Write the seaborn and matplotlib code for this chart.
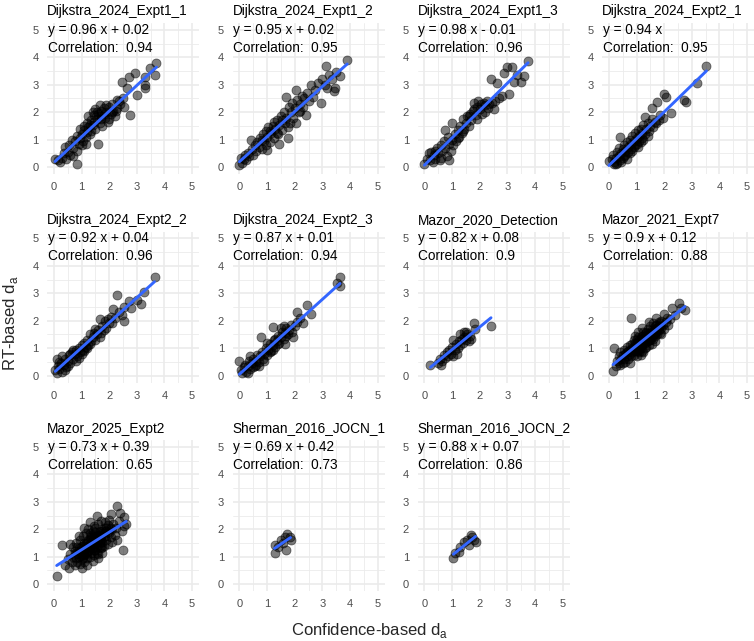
import matplotlib
matplotlib.use("Agg")
import matplotlib.pyplot as plt
import seaborn as sns
import pandas as pd
import numpy as np

sns.set_style("white")
plt.rcParams['font.family'] = ['Liberation Sans', 'DejaVu Sans']
plt.rcParams['mathtext.fontset'] = 'custom'
plt.rcParams['mathtext.rm'] = 'Liberation Sans'

# ---------------- data ----------------
panels = ["Dijkstra_2024_Expt1_1", "Dijkstra_2024_Expt1_2", "Dijkstra_2024_Expt1_3",
          "Dijkstra_2024_Expt2_1", "Dijkstra_2024_Expt2_2", "Dijkstra_2024_Expt2_3",
          "Mazor_2020_Detection", "Mazor_2021_Expt7", "Mazor_2025_Expt2",
          "Sherman_2016_JOCN_1", "Sherman_2016_JOCN_2"]

equations = ["y = 0.96 x + 0.02", "y = 0.95 x + 0.02", "y = 0.98 x - 0.01",
             "y = 0.94 x", "y = 0.92 x + 0.04", "y = 0.87 x + 0.01",
             "y = 0.82 x + 0.08", "y = 0.9 x + 0.12", "y = 0.73 x + 0.39",
             "y = 0.69 x + 0.42", "y = 0.88 x + 0.07"]

correlations = ["0.94", "0.95", "0.96", "0.95", "0.96", "0.94",
                "0.9", "0.88", "0.65", "0.73", "0.86"]

d1_1 = [(0.04,0.29),(0.22,0.19),(0.15,0.25),(0.30,0.35),(0.35,0.50),(0.40,0.74),(0.45,0.30),(0.50,0.55),
        (0.55,0.80),(0.60,0.45),(0.64,1.00),(0.70,0.70),(0.75,0.95),(0.82,1.13),(0.82,0.13),(0.85,0.60),
        (0.90,0.85),(0.95,1.05),(1.00,1.20),(1.05,0.95),(1.10,1.35),(1.15,1.10),(1.19,1.29),(1.20,1.60),
        (1.25,1.45),(1.30,1.20),(1.35,1.70),(1.40,1.55),(1.45,1.90),(1.50,1.40),(1.50,2.10),(1.55,1.75),
        (1.59,0.83),(1.60,1.95),(1.65,1.60),(1.70,2.05),(1.72,1.85),(1.75,1.50),(1.80,2.15),(1.85,1.80),
        (1.90,2.00),(1.95,1.65),(2.00,2.20),(2.05,1.95),(2.10,2.30),(2.15,2.05),(2.20,1.85),(2.28,2.44),
        (2.30,2.15),(2.40,2.30),(2.46,3.10),(2.55,2.20),(2.64,2.90),(2.70,3.27),(2.76,1.90),(2.95,3.44),
        (3.00,2.63),(3.30,3.00),(3.30,3.30),(3.30,2.87),(3.49,3.60),(3.67,3.36),(3.71,3.81),(1.25,1.85),
        (1.35,1.30),(1.45,1.65),(1.55,2.00),(1.65,2.25),(1.40,2.00),(1.30,1.55),(1.10,1.50),(1.00,0.80),
        (0.95,1.40),(1.70,1.75),(1.80,1.95),(2.00,1.75),(2.10,2.00),(1.90,2.25),(2.25,2.05),(2.35,2.40),
        (2.50,2.50),(1.15,0.85),(0.70,0.40)]

d1_2 = [(0.00,0.07),(0.06,0.32),(0.10,0.15),(0.15,0.30),(0.20,0.45),(0.25,0.25),(0.30,0.50),(0.35,0.40),
        (0.42,1.00),(0.45,0.65),(0.50,0.45),(0.55,0.80),(0.60,0.60),(0.65,0.90),(0.70,0.75),(0.75,1.05),
        (0.80,0.65),(0.85,1.20),(0.90,0.95),(0.95,1.30),(1.00,0.62),(1.00,1.10),(1.05,1.45),(1.10,0.90),
        (1.15,1.25),(1.20,1.50),(1.25,1.05),(1.30,1.40),(1.35,1.70),(1.40,1.20),(1.45,0.86),(1.45,1.55),
        (1.50,1.85),(1.55,1.35),(1.60,2.00),(1.65,1.60),(1.70,2.57),(1.70,1.80),(1.77,1.05),(1.80,2.20),
        (1.82,1.60),(1.85,2.00),(1.90,2.35),(1.95,1.80),(2.00,2.15),(2.06,2.81),(2.06,1.60),(2.10,2.45),
        (2.15,2.00),(2.20,2.30),(2.25,2.60),(2.30,2.20),(2.35,2.50),(2.42,1.90),(2.45,2.70),(2.50,2.40),
        (2.60,3.00),(2.65,2.55),(2.75,2.80),(2.85,3.05),(2.97,2.32),(3.00,3.20),(3.10,3.00),(3.15,3.70),
        (3.18,2.87),(3.25,3.35),(3.35,3.20),(3.42,2.79),(3.45,2.87),(3.50,3.45),(3.64,3.32),(3.90,3.90),
        (1.25,1.65),(1.35,1.25),(0.95,0.80),(1.10,1.30),(1.55,1.70),(1.75,1.45),(2.20,2.05),(0.80,1.00)]

d1_3 = [(0.00,0.10),(0.10,0.30),(0.15,0.50),(0.20,0.25),(0.25,0.55),(0.30,0.20),(0.35,0.45),(0.40,0.30),
        (0.45,0.70),(0.50,0.50),(0.55,0.25),(0.60,0.80),(0.65,0.60),(0.70,0.95),(0.75,1.35),(0.75,0.70),
        (0.80,0.40),(0.85,1.10),(0.90,0.25),(0.90,0.85),(0.95,0.60),(1.00,1.60),(1.00,1.00),(1.05,0.80),
        (1.10,1.20),(1.15,0.95),(1.20,1.35),(1.25,1.10),(1.30,1.50),(1.35,1.25),(1.40,1.75),(1.45,1.40),
        (1.50,1.60),(1.55,1.85),(1.60,1.50),(1.65,1.95),(1.70,1.70),(1.75,2.05),(1.80,2.35),(1.85,1.90),
        (1.90,2.20),(1.95,2.40),(2.00,2.10),(2.05,2.30),(2.10,1.95),(2.15,2.35),(2.20,2.25),(2.25,2.40),
        (2.30,2.15),(2.35,2.30),(2.41,3.20),(2.45,2.35),(2.50,2.10),(2.55,2.40),(2.63,3.05),(2.70,2.50),
        (2.80,2.60),(2.87,3.44),(3.00,3.66),(3.05,2.66),(3.18,3.66),(3.24,3.11),(3.36,3.36),(3.48,3.11),
        (3.62,3.32),(3.75,3.88),(1.40,1.30),(1.60,1.85),(1.90,1.75),(2.20,2.00),(0.60,0.35),(0.40,0.60),
        (1.20,1.05),(1.80,2.10)]

d2_1 = [(0.00,0.22),(0.17,0.10),(0.10,0.30),(0.15,0.45),(0.20,0.20),(0.25,0.35),(0.30,0.55),(0.30,0.15),
        (0.35,0.40),(0.40,0.25),(0.41,1.10),(0.45,0.50),(0.50,0.65),(0.50,0.35),(0.55,0.80),(0.60,0.45),
        (0.60,0.60),(0.65,0.90),(0.70,0.55),(0.70,0.75),(0.75,1.00),(0.80,0.65),(0.80,0.85),(0.85,1.15),
        (0.90,0.75),(0.90,0.95),(0.95,1.25),(1.00,0.85),(1.00,1.05),(1.05,1.35),(1.10,0.95),(1.10,1.15),
        (1.15,1.40),(1.20,1.05),(1.20,1.25),(1.25,1.55),(1.30,1.20),(1.32,1.81),(1.35,1.40),(1.40,1.60),
        (1.45,1.30),(1.50,1.50),(1.56,2.14),(1.55,1.75),(1.60,1.45),(1.65,1.65),(1.75,2.38),(1.80,1.70),
        (1.85,1.90),(2.01,2.65),(2.05,2.57),(2.23,1.96),(2.72,2.45),(2.80,2.38),(3.20,3.05),(3.53,3.69),
        (0.35,0.70),(0.55,0.40),(0.75,0.50),(0.95,0.80),(1.15,0.90),(0.65,0.30),(0.85,0.60),(1.05,0.75),
        (0.45,0.20),(0.25,0.10),(1.25,1.00),(1.40,1.15),(1.70,1.60),(1.95,1.80)]

d2_2 = [(0.10,0.62),(0.05,0.20),(0.10,0.10),(0.15,0.35),(0.20,0.25),(0.25,0.45),(0.30,0.15),(0.35,0.40),
        (0.40,0.60),(0.45,0.30),(0.50,0.55),(0.55,0.75),(0.60,0.45),(0.65,0.85),(0.70,0.60),(0.75,0.80),
        (0.80,0.95),(0.85,0.70),(0.90,1.00),(0.95,0.85),(1.00,1.10),(1.05,0.95),(1.10,1.20),(1.15,1.05),
        (1.20,1.30),(1.25,1.10),(1.31,1.50),(1.35,1.25),(1.40,1.40),(1.45,1.55),(1.50,1.30),(1.55,1.50),
        (1.60,1.65),(1.67,2.06),(1.70,1.55),(1.75,1.80),(1.80,1.65),(1.85,2.00),(1.90,1.75),(1.95,2.05),
        (2.00,1.90),(2.05,2.15),(2.15,2.42),(2.10,1.90),(2.20,2.10),(2.30,2.93),(2.35,2.30),(2.45,2.20),
        (2.52,2.00),(2.55,2.50),(2.70,2.72),(2.80,2.45),(3.00,2.75),(3.15,2.60),(3.25,3.03),(3.64,3.60),
        (0.60,0.80),(0.80,0.55),(1.00,0.80),(1.20,1.00),(0.40,0.20),(0.20,0.50),(0.70,0.95),(0.90,0.65),
        (1.10,0.90),(1.30,1.15),(1.50,1.70),(1.65,1.40),(0.50,0.35),(0.30,0.70)]

d2_3 = [(0.00,0.55),(0.05,0.20),(0.10,0.10),(0.15,0.30),(0.20,0.40),(0.25,0.15),(0.30,0.35),(0.35,0.55),
        (0.40,0.25),(0.45,0.45),(0.50,0.60),(0.55,0.35),(0.60,0.55),(0.65,0.75),(0.70,0.50),(0.75,0.70),
        (0.79,1.39),(0.80,0.85),(0.85,0.60),(0.90,0.80),(0.95,1.00),(1.00,0.75),(1.05,0.95),(1.10,1.15),
        (1.15,0.90),(1.21,1.76),(1.20,1.10),(1.25,1.30),(1.30,1.05),(1.35,1.25),(1.40,1.45),(1.45,1.20),
        (1.50,1.40),(1.55,1.60),(1.60,1.35),(1.64,1.15),(1.65,1.55),(1.70,1.75),(1.75,1.50),(1.80,1.65),
        (1.85,1.85),(1.90,1.60),(1.94,1.39),(2.00,1.80),(2.08,2.33),(2.10,1.95),(2.20,2.10),(2.30,1.90),
        (2.45,2.58),(2.60,2.24),(3.52,3.39),(3.64,3.60),(3.64,3.27),(0.50,0.30),(0.70,0.35),(0.90,0.55),
        (1.10,0.85),(1.30,1.35),(1.50,1.75),(1.70,1.45),(0.30,0.10),(0.40,0.70),(0.60,0.40),(1.00,1.20),
        (1.20,0.95),(1.40,1.15),(1.60,1.80)]

m2020 = [(0.22,0.40),(0.50,0.47),(0.55,0.60),(0.65,0.55),(0.70,0.75),(0.75,0.65),(0.80,0.85),(0.85,0.70),
         (0.90,0.95),(0.95,0.80),(1.00,1.05),(1.05,0.73),(1.05,1.30),(1.10,0.95),(1.15,1.15),(1.18,0.79),
         (1.20,1.00),(1.25,1.25),(1.30,1.10),(1.35,1.35),(1.40,1.20),(1.42,1.58),(1.45,1.40),(1.50,1.30),
         (1.55,1.50),(1.60,1.25),(1.65,1.45),(1.70,1.35),(1.78,1.90),(1.84,1.70),(2.41,1.79),(0.60,0.40),
         (1.30,1.50),(1.50,1.60)]

m2021 = [(0.15,0.18),(0.20,1.00),(0.30,0.55),(0.35,0.70),(0.40,0.40),(0.40,0.85),(0.45,0.60),(0.50,0.75),
         (0.50,0.45),(0.55,0.95),(0.55,0.60),(0.60,0.80),(0.60,0.50),(0.65,0.70),(0.65,1.05),(0.70,0.90),
         (0.70,0.60),(0.75,0.80),(0.75,1.10),(0.80,2.10),(0.80,0.95),(0.80,0.70),(0.85,1.15),(0.85,0.85),
         (0.90,1.00),(0.90,0.75),(0.90,1.30),(0.95,1.10),(0.95,0.90),(1.00,1.20),(1.00,0.95),(1.00,0.70),
         (1.05,1.05),(1.05,1.40),(1.10,1.15),(1.10,0.85),(1.10,1.30),(1.15,1.00),(1.15,1.25),(1.20,1.45),
         (1.20,1.10),(1.20,0.90),(1.25,1.30),(1.25,1.60),(1.30,1.20),(1.30,1.45),(1.30,1.00),(1.35,1.35),
         (1.35,1.55),(1.40,1.25),(1.40,1.70),(1.40,1.45),(1.45,1.10),(1.45,1.40),(1.50,1.55),(1.50,1.30),
         (1.50,1.80),(1.55,1.45),(1.55,1.65),(1.60,1.35),(1.60,1.55),(1.60,1.90),(1.65,1.70),(1.65,1.45),
         (1.70,1.60),(1.70,1.85),(1.75,1.50),(1.75,1.75),(1.80,1.95),(1.80,1.65),(1.85,1.80),(1.85,1.55),
         (1.90,2.00),(1.90,1.75),(1.95,1.85),(2.00,2.24),(2.00,1.70),(2.05,1.95),(2.10,2.10),(2.15,1.85),
         (2.20,2.05),(2.30,2.48),(2.40,2.20),(2.54,2.63),(2.60,2.45),(2.75,2.40),(0.25,0.35),(0.35,0.45),
         (1.20,1.75),(1.05,1.60),(0.95,1.45),(1.45,1.95),(1.70,2.10),(1.25,0.85),(1.55,1.15),(0.75,0.45),
         (1.35,1.05),(1.00,1.35),(0.85,1.00),(1.15,0.75),(1.65,1.25),(1.90,1.50),
         (0.95,1.00),(1.05,1.15),(1.15,1.10),(1.25,1.20),(1.35,1.25),(1.45,1.30),(1.55,1.40),(1.65,1.55),
         (1.75,1.65),(1.00,1.05),(1.10,1.00),(1.20,1.30),(1.30,1.35),(1.40,1.40),(1.50,1.45),(1.60,1.60),
         (1.70,1.70),(1.80,1.80),(0.85,0.95),(0.95,1.20),(1.05,0.90),(1.15,1.35),(1.25,1.45),(1.35,1.60),
         (1.45,1.55),(1.55,1.60),(1.65,1.80),(0.75,0.95),(0.65,0.85),(1.85,1.90)]

m2025 = [(0.10,0.30),(0.28,1.42),(0.40,0.70),(0.50,0.90),(0.55,0.60),(0.60,1.10),(0.65,0.80),(0.70,1.00),
         (0.70,1.35),(0.75,0.70),(0.75,1.20),(0.80,0.95),(0.80,1.50),(0.85,1.10),(0.85,0.80),(0.90,1.30),
         (0.90,1.00),(0.95,1.60),(0.95,0.75),(1.00,1.15),(1.00,1.40),(1.00,0.90),(1.05,1.25),(1.05,1.75),
         (1.10,1.05),(1.10,1.50),(1.10,0.80),(1.15,1.30),(1.15,1.85),(1.20,1.10),(1.20,1.55),(1.20,0.95),
         (1.25,1.40),(1.25,2.00),(1.25,1.20),(1.30,1.65),(1.30,1.00),(1.30,1.35),(1.35,1.80),(1.35,1.50),
         (1.35,1.15),(1.40,1.30),(1.40,1.95),(1.40,1.60),(1.45,1.45),(1.45,2.10),(1.45,1.05),(1.50,1.70),
         (1.50,1.25),(1.50,1.90),(1.55,2.48),(1.55,1.55),(1.55,1.35),(1.60,1.80),(1.60,2.20),(1.60,1.10),
         (1.65,1.50),(1.65,1.95),(1.70,1.65),(1.70,2.30),(1.70,1.30),(1.75,1.85),(1.75,1.55),(1.80,2.05),
         (1.80,1.40),(1.85,1.75),(1.85,2.25),(1.90,1.60),(1.90,1.95),(1.95,2.15),(1.95,1.45),(2.00,1.85),
         (2.00,2.35),(2.05,1.70),(2.10,2.00),(2.10,1.55),(2.15,2.20),(2.20,1.80),(2.28,2.85),(2.25,2.05),
         (2.30,1.60),(2.35,2.30),(2.45,1.95),(2.50,1.24),(2.52,2.44),(2.55,2.10),(2.62,2.18),(1.00,0.60),
         (1.20,0.70),(1.40,0.85),(1.60,0.95),(0.60,1.45),(0.90,1.75),(1.10,2.05),(1.30,2.25),(2.05,2.55),
         (2.40,2.60),(1.75,1.15),(1.05,0.95),(0.85,1.35),
         (1.10,1.25),(1.20,1.35),(1.30,1.45),(1.40,1.50),(1.50,1.55),(1.60,1.65),(1.70,1.75),(1.80,1.70),
         (1.00,1.05),(1.15,1.50),(1.25,1.60),(1.35,1.70),(1.45,1.75),(1.55,1.80),(1.65,1.70),(1.75,1.95),
         (1.85,1.95),(1.95,1.90),(1.05,1.40),(1.15,1.15),(1.25,1.30),(1.35,1.40),(1.45,1.25),(1.55,1.15),
         (1.65,1.35),(1.75,1.35),(1.30,1.85),(1.50,2.05),(0.95,1.20),(0.80,1.15),(2.05,2.05),(1.90,2.05)]

s2016_1 = [(1.27,1.42),(1.27,1.12),(1.70,1.26),(1.64,1.72),(1.73,1.82),(1.85,1.60),(1.52,1.60),
           (1.82,1.72),(1.58,1.50),(1.40,1.36)]

s2016_2 = [(1.05,0.97),(1.10,1.12),(1.30,1.36),(1.42,1.54),(1.55,1.62),(1.70,1.78),(1.79,1.60),
           (1.85,1.54),(1.60,1.42),(1.24,1.18),(1.72,1.72)]

series = [d1_1, d1_2, d1_3, d2_1, d2_2, d2_3, m2020, m2021, m2025, s2016_1, s2016_2]

# ---------------- layout ----------------
W, H = 754, 641
fig = plt.figure(figsize=(W / 100, H / 100), dpi=100)
col_left = [47, 232.5, 417.5, 602]
row_top = [23, 231.5, 440]
pw, ph = 152, 151

grid_col = "#EBEBEB"
ticks = [0, 1, 2, 3, 4, 5]

for i, (name, pts) in enumerate(zip(panels, series)):
    r, c = divmod(i, 4)
    ax = fig.add_axes([col_left[c] / W, 1 - (row_top[r] + ph) / H, pw / W, ph / H])
    df = pd.DataFrame(pts, columns=["conf", "rt"])
    sns.regplot(data=df, x="conf", y="rt", ax=ax, ci=None, truncate=True,
                scatter_kws=dict(s=42, color="black", alpha=0.5, edgecolor="black", linewidths=0.6),
                line_kws=dict(color="#3366FF", lw=2.1))
    ax.set_xlim(-0.25, 5.25)
    ax.set_ylim(-0.25, 5.25)
    ax.set_xticks(ticks)
    ax.set_yticks(ticks)
    ax.set_xticks(np.arange(0.5, 5.0, 1.0), minor=True)
    ax.set_yticks(np.arange(0.5, 5.0, 1.0), minor=True)
    ax.grid(True, which="major", color=grid_col, lw=1.2)
    ax.grid(True, which="minor", color=grid_col, lw=0.6)
    ax.set_axisbelow(True)
    for sp in ax.spines.values():
        sp.set_visible(False)
    ax.tick_params(which="both", length=0, pad=6, labelsize=8, labelcolor="#4D4D4D")
    ax.set_xlabel("")
    ax.set_ylabel("")
    ax.text(0.0, 1 + 11.5 / ph, name, transform=ax.transAxes, ha="left", va="center",
            fontsize=9.8, color="black")
    ax.text(-0.22, 5.0, equations[i], ha="left", va="center", fontsize=9.8, color="black")
    ax.text(-0.22, 4.34, "Correlation:  " + correlations[i], ha="left", va="center",
            fontsize=9.8, color="black")

fig.text(370 / W, 1 - 631 / H, r"Confidence-based d$_\mathregular{a}$", ha="center", va="center",
         fontsize=12)
fig.text(11 / W, 1 - 323 / H, r"RT-based d$_\mathregular{a}$", ha="center", va="center",
         rotation=90, fontsize=12)

fig.savefig("out.png", dpi=100, facecolor="white")
